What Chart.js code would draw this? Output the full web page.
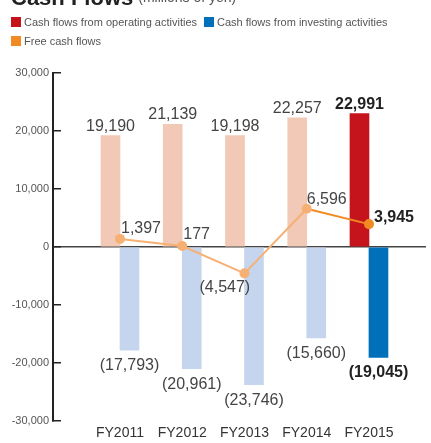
<!DOCTYPE html>
<html>
<head>
<meta charset="utf-8">
<title>Cash Flows</title>
<script src="https://cdn.jsdelivr.net/npm/chart.js@4/dist/chart.umd.min.js"></script>
<style>
  body { margin: 0; background: #fff; }
  #wrap { position: relative; width: 431px; height: 443px; overflow: hidden;
          font-family: "Liberation Sans", Arial, sans-serif; }
  #title { position: absolute; left: 11px; top: -13px; line-height: 1; white-space: nowrap; }
  #title b { font-size: 22px; color: #222; }
  #title span { font-size: 14px; color: #555; margin-left: 5px; vertical-align: 3px; }
  canvas { position: absolute; left: 0; top: 0; }
  #legend { position: absolute; left: 11px; top: 15px; width: 400px; font-size: 11px; color: #555; }
  .item { display: inline-flex; align-items: center; height: 14px; margin: 0 7px 5px 0; white-space: nowrap; }
  .box { display: inline-block; width: 10px; height: 10px; margin-right: 3px; }
</style>
</head>
<body>
<div id="wrap">
  <canvas id="cashChart" width="431" height="443"></canvas>
  <div id="title"><b>Cash Flows</b><span>(millions of yen)</span></div>
  <div id="legend"></div>
</div>
<script>
// fiscal years and cash flow figures (millions of yen)
const years = ['FY2011', 'FY2012', 'FY2013', 'FY2014', 'FY2015'];
const operating = [19190, 21139, 19198, 22257, 22991];
const investing = [-17793, -20961, -23746, -15660, -19045];
const freeCash = [1397, 177, -4547, 6596, 3945];
const yTicks = [-30000, -20000, -10000, 0, 10000, 20000, 30000];

// where each free cash flow label sits relative to its point
const fcfLabelOffset = [[1, -6], [1, -7], [-45, 19], [0, -5], [5, -2]];

const fontFamily = '"Liberation Sans", Arial, Helvetica, sans-serif';
Chart.defaults.font.family = fontFamily;

const lastIdx = years.length - 1;
const colors = {
    operating: '#C5141C', operatingPast: '#F2C9B6',
    investing: '#0070BB', investingPast: '#C6D5EE',
    fcf: '#F18A22', fcfPast: '#F7B073'
};

function fmt(v) {
    const s = Math.abs(v).toLocaleString('en-US');
    return v < 0 ? '(' + s + ')' : s;
}

function toPoints(values) {
    return values.map((v, i) => ({ x: i, y: v }));
}

// bar value labels above/below bars, free cash flow labels next to points
const valueLabels = {
    id: 'valueLabels',
    afterDatasetsDraw(chart) {
        const ctx = chart.ctx;
        ctx.save();
        ctx.textBaseline = 'alphabetic';
        chart.data.datasets.forEach((ds, i) => {
            const meta = chart.getDatasetMeta(i);
            meta.data.forEach((el, j) => {
                const v = ds.data[j].y;
                const last = j === lastIdx;
                ctx.font = (last ? 'bold ' : '') + '16px ' + fontFamily;
                ctx.fillStyle = last ? '#222' : '#444';
                if (ds.type === 'line') {
                    const off = fcfLabelOffset[j];
                    ctx.textAlign = 'left';
                    ctx.fillText(fmt(v), el.x + off[0], el.y + off[1]);
                } else {
                    ctx.textAlign = 'center';
                    ctx.fillText(fmt(v), el.x, v >= 0 ? el.y - 5 : el.y + 20);
                }
            });
        });
        ctx.restore();
    }
};

const data = {
    datasets: [
        {
            type: 'line',
            label: 'Free cash flows',
            data: toPoints(freeCash),
            order: 0,
            borderWidth: 2,
            pointRadius: 5,
            pointBorderWidth: 0,
            pointBackgroundColor: freeCash.map((_, i) => i === lastIdx ? colors.fcf : colors.fcfPast),
            segment: {
                borderColor: c => c.p1DataIndex === lastIdx ? colors.fcf : colors.fcfPast
            },
            legendColor: colors.fcf
        },
        {
            type: 'bar',
            label: 'Cash flows from operating activities',
            data: toPoints(operating),
            order: 1,
            backgroundColor: operating.map((_, i) => i === lastIdx ? colors.operating : colors.operatingPast),
            legendColor: colors.operating
        },
        {
            type: 'bar',
            label: 'Cash flows from investing activities',
            data: toPoints(investing),
            order: 1,
            backgroundColor: investing.map((_, i) => i === lastIdx ? colors.investing : colors.investingPast),
            legendColor: colors.investing
        }
    ]
};

const legendOrder = [1, 2, 0];

const config = {
    data: data,
    options: {
        responsive: false,
        animation: false,
        layout: { padding: { left: 3, right: 1, top: 73, bottom: 1 } },
        datasets: {
            bar: { barThickness: 19 }
        },
        plugins: {
            tooltip: { enabled: false },
            legend: { display: false }
        },
        scales: {
            x: {
                type: 'linear',
                offset: false,
                min: -1.076,
                max: 4.916,
                border: { display: false },
                grid: { display: false, drawTicks: false, offset: false },
                afterFit: scale => { scale.height = 21; },
                afterBuildTicks: scale => {
                    scale.ticks = years.map((_, i) => ({ value: i }));
                },
                ticks: {
                    autoSkip: false,
                    maxRotation: 0,
                    padding: 4,
                    color: '#333',
                    font: { size: 14 },
                    callback: v => years[v] || ''
                }
            },
            y: {
                min: -30000,
                max: 30000,
                afterFit: scale => { scale.width = 50; },
                afterBuildTicks: scale => {
                    scale.ticks = yTicks.map(v => ({ value: v }));
                },
                border: { color: '#222', width: 2 },
                grid: {
                    tickLength: -8,
                    tickColor: '#222',
                    tickWidth: 1.5,
                    lineWidth: 1.5,
                    color: c => c.tick && c.tick.value === 0 ? '#444' : 'rgba(0,0,0,0)'
                },
                ticks: {
                    padding: 12,
                    color: '#555',
                    font: { size: 11 },
                    callback: v => v.toLocaleString('en-US')
                }
            }
        }
    },
    plugins: [valueLabels]
};

const cashChart = new Chart(document.getElementById('cashChart'), config);

// legend: operating, investing, then free cash flows
const legendEl = document.getElementById('legend');
legendOrder.forEach(i => {
    const ds = cashChart.data.datasets[i];
    const item = document.createElement('span');
    item.className = 'item';
    const box = document.createElement('span');
    box.className = 'box';
    box.style.background = ds.legendColor;
    item.appendChild(box);
    item.appendChild(document.createTextNode(ds.label));
    legendEl.appendChild(item);
});
</script>
</body>
</html>
